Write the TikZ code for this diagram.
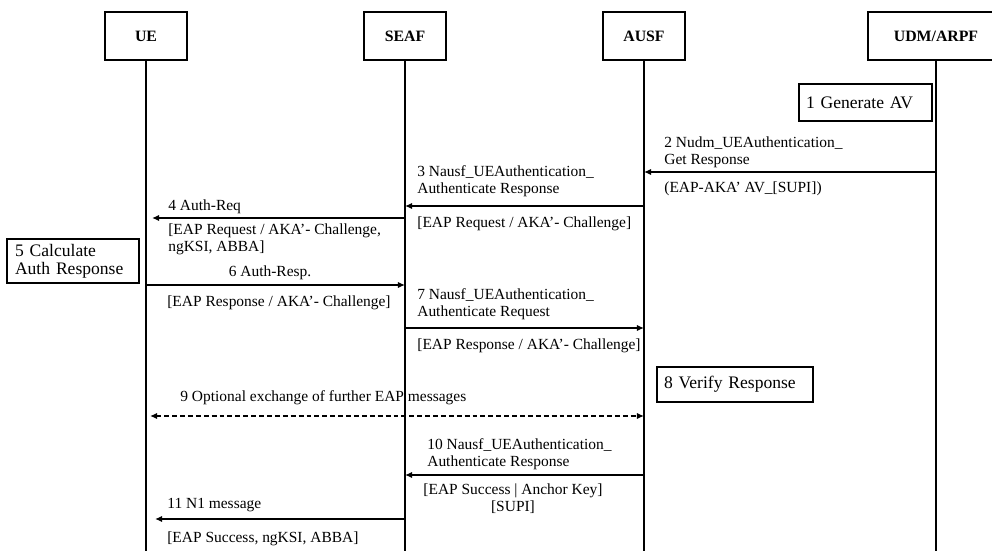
\documentclass[tikz,border=0pt]{standalone}
\usepackage{fontspec}
\setmainfont{Liberation Serif}
\usetikzlibrary{arrows.meta, positioning, calc}

\begin{document}
\begin{tikzpicture}[
    x=0.02cm, y=-0.02cm,
    font=\fontsize{8.8}{9.7}\selectfont,
    entity/.style={rectangle, draw, line width=1.2pt, minimum height=0.96cm, minimum width=1.64cm, font=\fontsize{9}{10}\selectfont\bfseries},
    stepbox/.style={rectangle, draw, line width=1.2pt, align=left, inner xsep=0.14cm, inner ysep=0pt, font=\fontsize{10}{10}\selectfont},
    lifeline/.style={line width=1pt},
    msg/.style={-{Latex[length=4pt, width=3.6pt]}, line width=1pt},
    lbl/.style={anchor=west, align=left, inner sep=0pt}
]
    \clip (0,0) rectangle (992,551);

    % Entities
    \node[entity] (ue) at (146,36) {UE};
    \node[entity] (seaf) at (405,36) {SEAF};
    \node[entity] (ausf) at (644,36) {AUSF};
    \node[entity, minimum width=2.72cm] (udm) at (936,36) {UDM/ARPF};

    \foreach \e in {ue, seaf, ausf, udm}
        \draw[lifeline] (\e.south) -- (\e.south |- 0,551);

    % 1-3 AV from home network
    \node[stepbox, text width=2.38cm, minimum height=0.74cm] (s1) at (865.5,102.5) {1 Generate AV};

    \draw[msg] (udm.south |- 0,172) -- (ausf.south |- 0,172);
    \node[lbl] (l2) at (664,152) {2 Nudm\_UEAuthentication\_\\Get Response};
    \node[lbl] (p2) at (664,189) {(EAP-AKA' AV\_[SUPI])};

    \draw[msg] (ausf.south |- 0,206) -- (seaf.south |- 0,206);
    \node[lbl] (l3) at (417,181.5) {3 Nausf\_UEAuthentication\_\\Authenticate Response};
    \node[lbl] (p3) at (417,224) {[EAP Request / AKA'- Challenge]};

    % 4-6 challenge to the UE
    \draw[msg, shorten >=1.2mm] (seaf.south |- 0,218) -- (ue.south |- 0,218);
    \node[lbl] (l4) at (168,207) {4 Auth-Req};
    \node[lbl] (p4) at (168,239.5) {[EAP Request / AKA'- Challenge,\\ngKSI, ABBA]};

    \node[stepbox, text width=2.32cm, inner xsep=0.16cm, minimum height=0.88cm] (s5) at (73,261) {5 Calculate\\Auth Response};

    \draw[msg] (ue.south |- 0,285) -- (seaf.south |- 0,285);
    \node[lbl, anchor=center] (l6) at (270,273) {6 Auth-Resp.};
    \node[lbl] (p6) at (167,303) {[EAP Response / AKA'- Challenge]};

    % 7-8 verification
    \draw[msg] (seaf.south |- 0,328) -- (ausf.south |- 0,328);
    \node[lbl] (l7) at (417,304) {7 Nausf\_UEAuthentication\_\\Authenticate Request};
    \node[lbl] (p7) at (417,346) {[EAP Response / AKA'- Challenge]};

    \node[stepbox, text width=2.84cm, minimum height=0.7cm] (s8) at (735,384.5) {8 Verify Response};

    % 9 optional exchange
    \draw[msg, {Latex[length=4pt, width=3.6pt]}-{Latex[length=4pt, width=3.6pt]}, dash pattern=on 2.8pt off 1.7pt, shorten <=0.8mm] (ue.south |- 0,416) -- (ausf.south |- 0,416);
    \node[lbl] (l9) at (180,398) {9 Optional exchange of further EAP messages};

    % 10-11 success
    \draw[msg] (ausf.south |- 0,475) -- (seaf.south |- 0,475);
    \node[lbl] (l10) at (427,454.5) {10 Nausf\_UEAuthentication\_\\Authenticate Response};
    \node[lbl, anchor=center, align=center] (p10) at (513,498.5) {[EAP Success | Anchor Key]\\{[SUPI]}};

    \draw[msg, shorten >=1.8mm] (seaf.south |- 0,519) -- (ue.south |- 0,519);
    \node[lbl] (l11) at (167,505) {11 N1 message};
    \node[lbl] (p11) at (167,539) {[EAP Success, ngKSI, ABBA]};
\end{tikzpicture}
\end{document}
